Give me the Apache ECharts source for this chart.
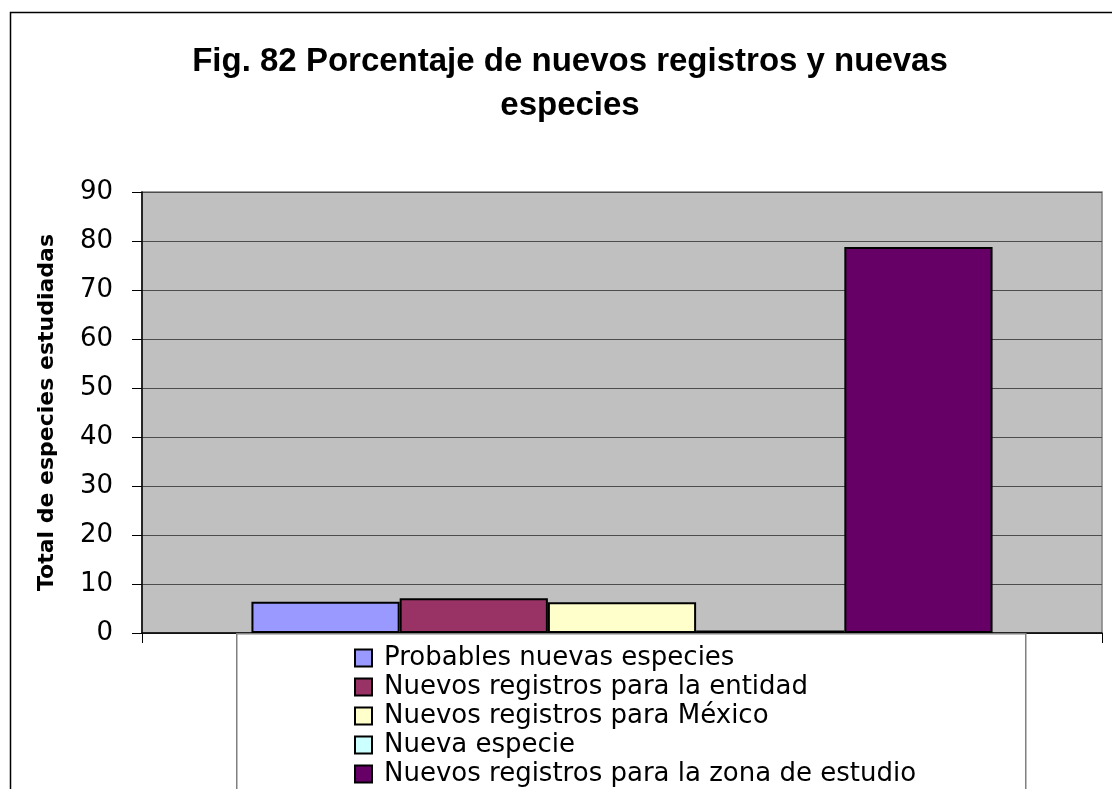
<!DOCTYPE html>
<html>
<head>
<meta charset="utf-8">
<script src="https://cdn.jsdelivr.net/npm/echarts@6/dist/echarts.min.js"></script>
<style>
  html, body { margin: 0; padding: 0; background: #fff; }
  #chart { width: 1112px; height: 789px; }
</style>
</head>
<body>
<div id="chart"></div>
<script>
// Categories shown in the legend, one bar each
const seriesNames = [
  'Probables nuevas especies',
  'Nuevos registros para la entidad',
  'Nuevos registros para México',
  'Nueva especie',
  'Nuevos registros para la zona de estudio'
];
// Percentage of the studied species for each category
const seriesValues = [6.4, 7.1, 6.3, 0.5, 78.8];
const seriesColors = ['#9999FF', '#993366', '#FFFFCC', '#CCFFFF', '#660066'];
const yTicks = { min: 0, max: 90, interval: 10 };

const FONT = 'DejaVu Sans, Liberation Sans, Arial, sans-serif';

const chart = echarts.init(document.getElementById('chart'), null, { renderer: 'canvas' });

const series = seriesNames.map((name, i) => ({
  name: name,
  type: 'bar',
  data: [seriesValues[i]],
  barGap: '0%',
  barCategoryGap: '22.8%',
  itemStyle: { color: seriesColors[i], borderColor: '#000', borderWidth: 2 },
  emphasis: { disabled: true },
  z: 3
}));

chart.setOption({
  animation: false,
  textStyle: { fontFamily: FONT },
  title: {
    text: 'Fig. 82 Porcentaje de nuevos registros y nuevas\nespecies',
    left: 565,
    top: 35,
    textAlign: 'center',
    textStyle: {
      fontFamily: 'Liberation Sans, Arial, sans-serif',
      fontWeight: 'bold',
      fontSize: 33,
      lineHeight: 44,
      color: '#000'
    }
  },
  grid: {
    left: 142,
    right: 10,
    top: 192,
    bottom: 156,
    show: true,
    backgroundColor: '#C0C0C0',
    borderColor: '#808080',
    borderWidth: 1.5
  },
  xAxis: {
    type: 'category',
    data: [''],
    axisLine: { lineStyle: { color: '#000', width: 1.5 } },
    axisTick: { show: true, length: 10, lineStyle: { color: '#000' } },
    axisLabel: { show: false }
  },
  yAxis: {
    type: 'value',
    min: yTicks.min,
    max: yTicks.max,
    interval: yTicks.interval,
    name: 'Total de especies estudiadas',
    nameLocation: 'middle',
    nameGap: 84,
    nameTextStyle: { fontFamily: FONT, fontWeight: 'bold', fontSize: 22, color: '#000' },
    axisLine: { show: true, lineStyle: { color: '#000', width: 1.5 } },
    axisTick: { show: true, length: 10, lineStyle: { color: '#000' } },
    axisLabel: { fontFamily: FONT, fontSize: 26, color: '#000', margin: 29 },
    splitLine: { show: true, lineStyle: { color: '#4d4d4d', width: 1 } }
  },
  legend: {
    orient: 'vertical',
    left: 354,
    top: 645,
    padding: 0,
    itemWidth: 17,
    itemHeight: 17,
    itemGap: 3,
    icon: 'rect',
    selectedMode: false,
    data: seriesNames,
    textStyle: { fontFamily: FONT, fontSize: 26, lineHeight: 26, color: '#000', padding: [0, 0, 0, 7] },
    z: 10
  },
  graphic: [
    {
      // outer chart frame
      type: 'rect',
      left: 8, top: 10,
      shape: { width: 1300, height: 1000 },
      style: { fill: 'none', stroke: '#000', lineWidth: 1.5 },
      silent: true,
      z: 0
    },
    {
      // legend box
      type: 'rect',
      left: 236, top: 633,
      shape: { width: 789, height: 300 },
      style: { fill: '#fff', stroke: '#808080', lineWidth: 1.5 },
      silent: true,
      z: 5
    }
  ],
  series: series
});
</script>
</body>
</html>
